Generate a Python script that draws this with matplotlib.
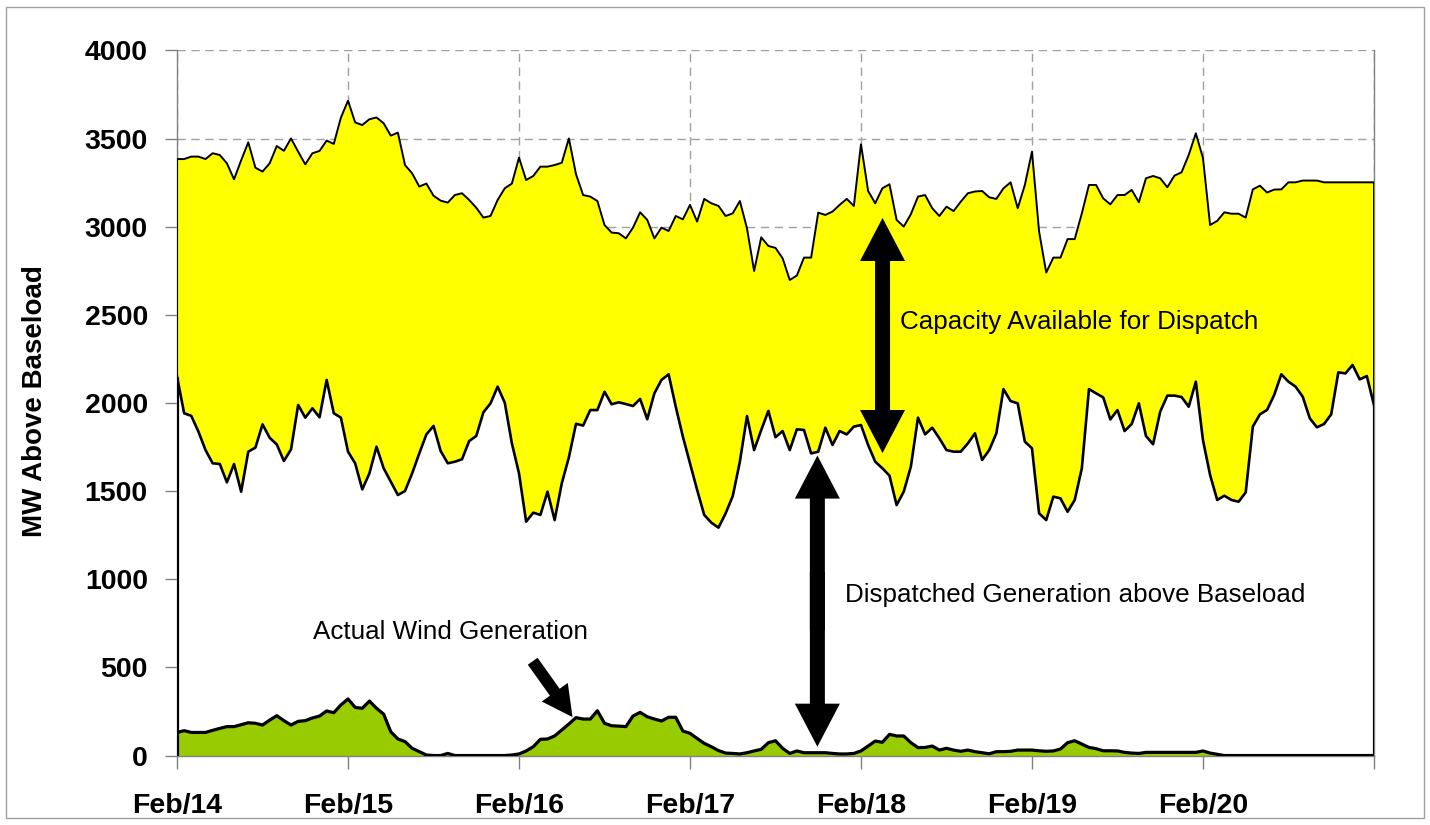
import numpy as np
import matplotlib.pyplot as plt
from matplotlib.patches import FancyArrowPatch, Rectangle

plt.rcParams['font.family'] = ['Liberation Sans', 'DejaVu Sans']

# hourly values, Feb/14 00:00 to Feb/21 00:00
day_labels = ["Feb/14", "Feb/15", "Feb/16", "Feb/17", "Feb/18", "Feb/19", "Feb/20", ""]

capacity_top = [
    3384, 3384, 3398, 3398, 3384, 3417, 3407, 3360, 3269, 3377, 3479, 3335,
    3313, 3360, 3458, 3431, 3501, 3426, 3354, 3417, 3430, 3489, 3470, 3619,
    3715, 3592, 3577, 3610, 3620, 3587, 3517, 3534, 3350, 3303, 3228, 3245,
    3176, 3148, 3137, 3180, 3190, 3152, 3108, 3052, 3061, 3152, 3218, 3245,
    3392, 3265, 3288, 3341, 3341, 3350, 3363, 3501, 3298, 3180, 3171, 3146,
    3010, 2967, 2963, 2934, 2995, 3082, 3039, 2934, 2995, 2976, 3061, 3042,
    3124, 3029, 3158, 3133, 3118, 3061, 3076, 3146, 2991, 2749, 2940, 2891,
    2880, 2821, 2698, 2723, 2825, 2825, 3080, 3067, 3086, 3124, 3158, 3118,
    3468, 3203, 3133, 3218, 3241, 3039, 3001, 3071, 3171, 3180, 3105, 3061,
    3114, 3089, 3142, 3190, 3200, 3203, 3167, 3158, 3218, 3252, 3105, 3237,
    3426, 2972, 2740, 2825, 2825, 2930, 2930, 3076, 3237, 3237, 3161, 3127,
    3180, 3180, 3209, 3139, 3275, 3288, 3275, 3224, 3290, 3309, 3407, 3530,
    3390, 3010, 3033, 3082, 3074, 3074, 3052, 3212, 3233, 3194, 3211, 3212,
    3252, 3252, 3262, 3262, 3262, 3252, 3252, 3252, 3252, 3252, 3252, 3252,
    3252,
]

dispatched = [
    2149, 1942, 1927, 1838, 1733, 1658, 1654, 1550, 1654, 1497, 1724, 1747,
    1879, 1803, 1765, 1671, 1737, 1989, 1917, 1970, 1919, 2131, 1942, 1917,
    1724, 1658, 1510, 1601, 1752, 1630, 1554, 1478, 1501, 1601, 1714, 1822,
    1870, 1728, 1658, 1667, 1681, 1784, 1813, 1947, 1998, 2093, 2002, 1771,
    1601, 1327, 1378, 1365, 1497, 1336, 1544, 1692, 1882, 1872, 1960, 1960,
    2064, 1993, 2004, 1994, 1983, 2023, 1908, 2055, 2131, 2163, 1979, 1809,
    1658, 1507, 1365, 1321, 1293, 1374, 1472, 1667, 1926, 1733, 1847, 1955,
    1806, 1841, 1733, 1851, 1847, 1714, 1724, 1860, 1762, 1841, 1822, 1866,
    1875, 1762, 1667, 1630, 1588, 1421, 1497, 1639, 1917, 1822, 1860, 1800,
    1733, 1724, 1724, 1771, 1828, 1677, 1733, 1828, 2079, 2011, 1998, 1781,
    1743, 1374, 1336, 1469, 1459, 1383, 1450, 1630, 2079, 2055, 2032, 1907,
    1960, 1841, 1881, 1998, 1813, 1766, 1951, 2042, 2042, 2034, 1979, 2121,
    1790, 1592, 1450, 1474, 1450, 1440, 1493, 1866, 1936, 1961, 2046, 2163,
    2121, 2093, 2036, 1913, 1862, 1881, 1936, 2174, 2168, 2216, 2134, 2153,
    1989,
]

wind = [
    131, 141, 131, 131, 131, 143, 154, 164, 164, 175, 186, 183,
    173, 201, 226, 198, 173, 194, 198, 213, 224, 253, 243, 287,
    321, 273, 268, 309, 268, 235, 135, 94, 79, 41, 22, 3,
    0, 0, 12, 0, 0, 0, 0, 0, 0, 0, 0, 3,
    9, 26, 50, 92, 94, 111, 145, 179, 215, 207, 207, 254,
    183, 169, 167, 164, 224, 245, 220, 207, 196, 217, 217, 139,
    126, 97, 69, 50, 28, 14, 12, 9, 16, 26, 35, 73,
    84, 41, 12, 26, 16, 16, 16, 16, 12, 9, 9, 12,
    26, 54, 82, 75, 120, 111, 111, 73, 45, 46, 54, 31,
    41, 31, 24, 31, 22, 16, 10, 22, 22, 24, 31, 31,
    31, 27, 24, 26, 37, 73, 84, 65, 46, 39, 27, 27,
    26, 18, 14, 12, 18, 18, 18, 18, 18, 18, 18, 18,
    26, 14, 7, 0, 0, 0, 0, 0, 0, 0, 0, 0,
    0, 0, 0, 0, 0, 0, 0, 0, 0, 0, 0, 0,
    0,
]

hours = np.arange(len(capacity_top)) / 24.0


def double_arrow(ax, x, y0, y1, hw, hl, tw):
    # two single arrows from the middle, overlapping a little so no seam shows
    mid = (y0 + y1) / 2.0
    overlap = (y1 - y0) * 0.1
    style = f"simple,head_length={hl},head_width={hw},tail_width={tw}"
    for start, end in ((mid + overlap, y0), (mid - overlap, y1)):
        ax.add_patch(FancyArrowPatch((x, start), (x, end), arrowstyle=style,
                                     mutation_scale=1, color='black', lw=0,
                                     shrinkA=0, shrinkB=0, zorder=6))


def main():
    fig = plt.figure(figsize=(14.3, 8.25), dpi=100)
    ax = fig.add_axes([0.1238, 0.0842, 0.8370, 0.8546])

    # areas
    ax.fill_between(hours, 0, dispatched, color='white', lw=0, zorder=1)
    ax.fill_between(hours, dispatched, capacity_top, color='#FFFF00', lw=0, zorder=1)
    ax.fill_between(hours, 0, wind, color='#99CC00', lw=0, zorder=2)

    ax.plot(hours, capacity_top, color='black', lw=1.4, zorder=3)
    ax.plot(hours, dispatched, color='black', lw=1.9, zorder=3)
    ax.plot(hours, wind, color='black', lw=2.3, zorder=4)
    ax.vlines([hours[0], hours[-1]], 0, [dispatched[0], dispatched[-1]], color='black', lw=2.3, zorder=3)
    ax.vlines([hours[0], hours[-1]], [dispatched[0], dispatched[-1]],
              [capacity_top[0], capacity_top[-1]], color='black', lw=1.4, zorder=3)

    ax.set_xlim(0, 7)
    ax.set_ylim(0, 4000)
    ax.set_xticks(range(8))
    ax.set_xticklabels(day_labels)
    ax.set_yticks(range(0, 4001, 500))

    ax.grid(True, ls=(0, (6, 4)), color='#a0a0a0', lw=1)
    ax.set_axisbelow(True)

    for side in ('left', 'bottom', 'right'):
        ax.spines[side].set_color('#808080')
        ax.spines[side].set_linewidth(1)
    ax.spines['top'].set_visible(False)

    ax.tick_params(axis='both', direction='out', color='#808080', length=9, width=1,
                   labelsize=20.5)
    ax.tick_params(axis='y', pad=12)
    ax.tick_params(axis='x', pad=18)
    for lab in ax.get_xticklabels() + ax.get_yticklabels():
        lab.set_fontweight('bold')

    ax.set_ylabel('MW Above Baseload', fontsize=20, fontweight='bold')
    ax.yaxis.set_label_coords(-0.108, 0.503)

    # annotations
    double_arrow(ax, 4.126, 1716, 3050, 32.4, 31, 10.8)
    double_arrow(ax, 3.745, 50, 1702, 32.4, 31, 10.8)
    ax.add_patch(FancyArrowPatch((2.08, 535), (2.313, 218),
                                 arrowstyle="simple,head_length=22,head_width=23,tail_width=8.6",
                                 mutation_scale=1, color='black', lw=0,
                                 shrinkA=0, shrinkB=0, zorder=6))

    ax.text(4.226, 2460, 'Capacity Available for Dispatch', fontsize=18.7,
            ha='left', va='center', zorder=7)
    ax.text(3.904, 911, 'Dispatched Generation above Baseload', fontsize=18.7,
            ha='left', va='center', zorder=7)
    ax.text(0.795, 700, 'Actual Wind Generation', fontsize=18.7,
            ha='left', va='center', zorder=7)

    fig.add_artist(Rectangle((0.004, 0.008), 0.992, 0.984, transform=fig.transFigure,
                             fill=False, ec='#a0a0a0', lw=1))

    fig.savefig('out.png', dpi=100)


if __name__ == "__main__":
    main()
